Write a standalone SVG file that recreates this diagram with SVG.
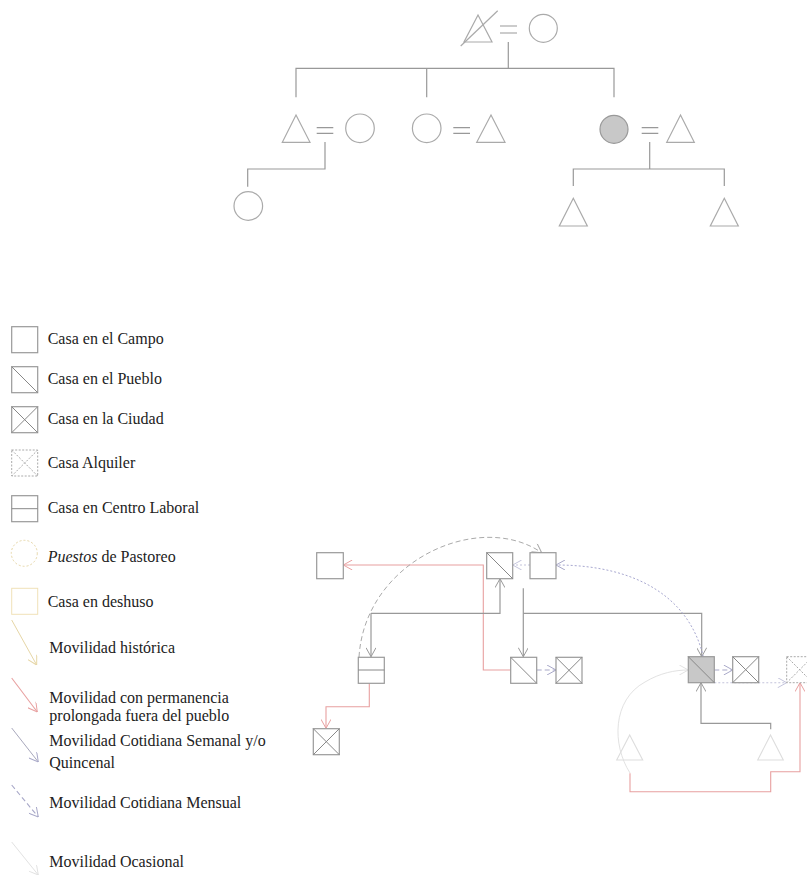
<svg xmlns="http://www.w3.org/2000/svg" width="807" height="875" viewBox="0 0 807 875">
<style>
.ln{fill:none;stroke:#999;stroke-width:1.2}
.sh{fill:none;stroke:#aaa;stroke-width:1.2}
.bx{fill:#fff;stroke:#999;stroke-width:1.2}
.dg{fill:none;stroke:#888;stroke-width:1}
.tx{font-family:"Liberation Serif","Times New Roman",serif;font-size:16px;fill:#222}
.red{fill:none;stroke:#e8a0a0;stroke-width:1.1}
.blu{fill:none;stroke:#a8a8c8;stroke-width:1.1;stroke-dasharray:5 3}
.dot{fill:none;stroke:#c4c4dc;stroke-width:1.1;stroke-dasharray:2 2}
.arc{fill:none;stroke:#aaa;stroke-width:1;stroke-dasharray:5 3}
.pal{fill:none;stroke:#e2e2e2;stroke-width:1}
.gld{fill:none;stroke:#e6d6a6;stroke-width:1}
</style>
<defs>
<marker id="aG" viewBox="0 0 10 10" refX="10" refY="5" markerWidth="10" markerHeight="10" markerUnits="userSpaceOnUse" orient="auto"><path d="M1,0 L10,5 L1,10" fill="none" stroke="#999" stroke-width="1"/></marker>
<marker id="aR" viewBox="0 0 10 10" refX="10" refY="5" markerWidth="10" markerHeight="10" markerUnits="userSpaceOnUse" orient="auto"><path d="M1,0 L10,5 L1,10" fill="none" stroke="#e8a0a0" stroke-width="1"/></marker>
<marker id="aB" viewBox="0 0 10 10" refX="10" refY="5" markerWidth="10" markerHeight="10" markerUnits="userSpaceOnUse" orient="auto"><path d="M1,0 L10,5 L1,10" fill="none" stroke="#a8a8c8" stroke-width="1"/></marker>
<marker id="aD" viewBox="0 0 10 10" refX="10" refY="5" markerWidth="10" markerHeight="10" markerUnits="userSpaceOnUse" orient="auto"><path d="M1,0 L10,5 L1,10" fill="none" stroke="#c4c4dc" stroke-width="1"/></marker>
<marker id="aA" viewBox="0 0 10 10" refX="10" refY="5" markerWidth="10" markerHeight="10" markerUnits="userSpaceOnUse" orient="auto"><path d="M1,0 L10,5 L1,10" fill="none" stroke="#aaa" stroke-width="1"/></marker>
<marker id="aP" viewBox="0 0 10 10" refX="10" refY="5" markerWidth="10" markerHeight="10" markerUnits="userSpaceOnUse" orient="auto"><path d="M1,0 L10,5 L1,10" fill="none" stroke="#e2e2e2" stroke-width="1"/></marker>
<marker id="aY" viewBox="0 0 10 10" refX="10" refY="5" markerWidth="10" markerHeight="10" markerUnits="userSpaceOnUse" orient="auto"><path d="M1,0 L10,5 L1,10" fill="none" stroke="#e6d6a6" stroke-width="1"/></marker>
</defs>

<!-- Genealogy -->
<g id="gen-connectors">
<path class="ln" d="M500,26 H517 M500,33 H517"/>
<path class="ln" d="M508.3,42 V68.3 M296,97.3 V68.3 H614 V97.3 M426.7,68.3 V97.3"/>
<path class="ln" d="M316.7,127.7 H333.3 M316.7,133.3 H333.3"/>
<path class="ln" d="M453.3,127.7 H470 M453.3,133.3 H470"/>
<path class="ln" d="M641.7,127.7 H658.3 M641.7,133.3 H658.3"/>
<path class="ln" d="M325,142 V169 H247.7 V186.7"/>
<path class="ln" d="M649.7,142 V169 M573.3,186 V169 H724.3 V186"/>
</g>
<g id="g-top-father"><path class="sh" d="M478,15 L492,42 H464 Z"/><path class="sh" d="M460.7,46 L497.7,10.7"/></g>
<g id="g-top-mother"><circle class="sh" cx="543.3" cy="28.3" r="14"/></g>
<g id="g-son1"><path class="sh" d="M296,115 L310,142.3 H282.3 Z"/></g>
<g id="g-son1-wife"><circle class="sh" cx="360" cy="128.3" r="14.3"/></g>
<g id="g-daughter1"><circle class="sh" cx="426.7" cy="128.3" r="14.3"/></g>
<g id="g-daughter1-husband"><path class="sh" d="M491,115 L505,142.3 H476.7 Z"/></g>
<g id="g-ego"><circle cx="614" cy="129.3" r="14" fill="#c8c8c8" stroke="#999" stroke-width="1.2"/></g>
<g id="g-ego-husband"><path class="sh" d="M680.5,115 L694.3,142.3 H666.7 Z"/></g>
<g id="g-grandchild1"><circle class="sh" cx="248.3" cy="206" r="14.3"/></g>
<g id="g-ego-son1"><path class="sh" d="M573.3,198.3 L587.3,226 H559.3 Z"/></g>
<g id="g-ego-son2"><path class="sh" d="M724.3,198.3 L738.3,226 H710.3 Z"/></g>

<!-- Legend -->
<g id="legend">
<g id="lg-campo"><rect class="bx" x="11.7" y="326.7" width="26" height="26"/><text class="tx" x="47.7" y="344.3">Casa en el Campo</text></g>
<g id="lg-pueblo"><rect class="bx" x="11.7" y="366.7" width="26" height="26"/><path class="dg" d="M11.7,366.7 L37.7,392.7"/><text class="tx" x="47.7" y="384.3">Casa en el Pueblo</text></g>
<g id="lg-ciudad"><rect class="bx" x="11.7" y="406.7" width="26" height="26"/><path class="dg" d="M11.7,406.7 L37.7,432.7 M37.7,406.7 L11.7,432.7"/><text class="tx" x="47.7" y="424.3">Casa en la Ciudad</text></g>
<g id="lg-alquiler"><rect x="11.7" y="450" width="26" height="26" fill="none" stroke="#aaa" stroke-width="1" stroke-dasharray="2 1.5"/><path d="M11.7,450 L37.7,476 M37.7,450 L11.7,476" fill="none" stroke="#aaa" stroke-width="1" stroke-dasharray="2 1.5"/><text class="tx" x="47.7" y="467.7">Casa Alquiler</text></g>
<g id="lg-laboral"><rect class="bx" x="11.7" y="495.7" width="26" height="26"/><path class="dg" d="M11.7,508.7 H37.7"/><text class="tx" x="47.7" y="513.3">Casa en Centro Laboral</text></g>
<g id="lg-puestos"><circle cx="24.3" cy="553.3" r="13" fill="none" stroke="#e6d6a6" stroke-width="1" stroke-dasharray="2 2"/><text class="tx" x="47.7" y="561.7"><tspan font-style="italic">Puestos</tspan> de Pastoreo</text></g>
<g id="lg-deshuso"><rect x="11.7" y="588.3" width="26" height="26" fill="none" stroke="#f0e2b8" stroke-width="1"/><text class="tx" x="47.7" y="606.7">Casa en deshuso</text></g>
<g id="lg-historica"><path class="gld" d="M11.7,620 L36.7,665" marker-end="url(#aY)"/><text class="tx" x="49.3" y="652.7">Movilidad histórica</text></g>
<g id="lg-permanencia"><path class="red" d="M11.7,678 L37.3,712" marker-end="url(#aR)"/><text class="tx" x="49.3" y="702.7">Movilidad con permanencia</text><text class="tx" x="49.3" y="720.7">prolongada fuera del pueblo</text></g>
<g id="lg-semanal"><path fill="none" stroke="#a8a8bc" stroke-width="1" d="M11.7,728 L38.3,762" marker-end="url(#aB)"/><text class="tx" x="49.3" y="746">Movilidad Cotidiana Semanal y/o</text><text class="tx" x="49.3" y="768.3">Quincenal</text></g>
<g id="lg-mensual"><path class="blu" d="M11.7,785 L38.3,817" marker-end="url(#aB)"/><text class="tx" x="49.3" y="808.3">Movilidad Cotidiana Mensual</text></g>
<g id="lg-ocasional"><path class="pal" d="M11.7,842 L38.3,875" marker-end="url(#aP)"/><text class="tx" x="49.3" y="866.7">Movilidad Ocasional</text></g>
</g>

<!-- Mobility diagram connectors -->
<g id="connectors">
<path class="red" d="M510.7,670 H483.3 V565 H343.3" marker-end="url(#aR)"/>
<path class="red" d="M369.3,683.3 V706.7 H326 V728.3" marker-end="url(#aR)"/>
<path class="red" d="M630,773.3 V791.7 H770.7 V771.7 H800 V682.7" marker-end="url(#aR)"/>
<path class="ln" d="M371,613.3 V656.7" marker-end="url(#aG)"/>
<path class="ln" d="M371,613.3 H500 V578.7" marker-end="url(#aG)"/>
<path class="ln" d="M523.3,588.3 V656.7" marker-end="url(#aG)"/>
<path class="ln" d="M523.3,613.3 H701.7 V656.7" marker-end="url(#aG)"/>
<path class="ln" d="M770.7,729.3 V723.3 H701 V682.7" marker-end="url(#aG)"/>
<path class="arc" d="M359,657 C365,560 480,510 541.7,552.7" marker-end="url(#aA)"/>
<path class="dot" d="M530,565 H512.7" marker-end="url(#aD)"/>
<path d="M703.3,656.7 C690,600 640,565 556,565" fill="none" stroke="#a8a8d0" stroke-width="1" stroke-dasharray="2 2" marker-end="url(#aB)"/>
<path d="M556,565 L560,565" fill="none" stroke="none"/>
<path class="blu" d="M536.7,670 H556" marker-end="url(#aB)"/>
<path class="blu" d="M714.3,670 H732.7" marker-end="url(#aB)"/>
<path class="dot" d="M714.3,682.7 H786.7" marker-end="url(#aD)"/>
<path class="pal" d="M630,773 C612,745 612,700 645,682 C660,673 675,670 688.3,670" marker-end="url(#aP)"/>
</g>

<!-- Mobility diagram nodes -->
<g id="m-campo1"><rect class="bx" x="316.7" y="552.7" width="26.6" height="26"/></g>
<g id="m-pueblo1"><rect class="bx" x="486.7" y="552.7" width="26" height="26"/><path class="dg" d="M486.7,552.7 L512.7,578.7"/></g>
<g id="m-campo2"><rect class="bx" x="530" y="552.7" width="26" height="26"/></g>
<g id="m-laboral"><rect class="bx" x="358.3" y="657.3" width="26" height="26"/><path class="dg" d="M358.3,670 H384.3"/></g>
<g id="m-ciudad1"><rect class="bx" x="313.3" y="728.7" width="26" height="26"/><path class="dg" d="M313.3,728.7 L339.3,754.7 M339.3,728.7 L313.3,754.7"/></g>
<g id="m-pueblo2"><rect class="bx" x="510.7" y="657.3" width="26" height="26"/><path class="dg" d="M510.7,657.3 L536.7,683.3"/></g>
<g id="m-ciudad2"><rect class="bx" x="556" y="657.3" width="26" height="26"/><path class="dg" d="M556,657.3 L582,683.3 M582,657.3 L556,683.3"/></g>
<g id="m-ego"><rect x="688.3" y="656.7" width="26" height="26" fill="#c8c8c8" stroke="#999" stroke-width="1.2"/><path class="dg" d="M688.3,656.7 L714.3,682.7"/></g>
<g id="m-ciudad3"><rect class="bx" x="732.7" y="656.7" width="26" height="26"/><path class="dg" d="M732.7,656.7 L758.7,682.7 M758.7,656.7 L732.7,682.7"/></g>
<g id="m-alquiler"><rect x="786.7" y="656.7" width="26" height="26" fill="#fff" stroke="#aaa" stroke-width="1" stroke-dasharray="2 1.5"/><path d="M786.7,656.7 L812.7,682.7 M812.7,656.7 L786.7,682.7" fill="none" stroke="#aaa" stroke-width="1" stroke-dasharray="2 1.5"/></g>
<g id="m-son1"><path fill="none" stroke="#ddd" stroke-width="1.1" d="M629.7,735 L642.7,760 H616.7 Z"/></g>
<g id="m-son2"><path fill="none" stroke="#ddd" stroke-width="1.1" d="M770.5,735 L783.3,760 H757.7 Z"/></g>
</svg>
